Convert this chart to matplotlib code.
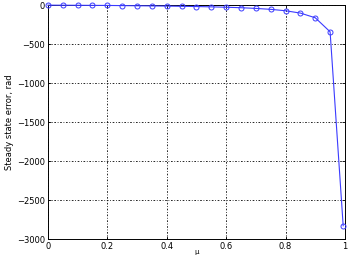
import matplotlib
matplotlib.use('Agg')
import matplotlib.pyplot as plt

# sweep parameter and steady state error
mu = [0.0, 0.05, 0.1, 0.15, 0.2, 0.25, 0.3, 0.35, 0.4, 0.45, 0.5,
      0.55, 0.6, 0.65, 0.7, 0.75, 0.8, 0.85, 0.9, 0.95, 0.994]
err = [0, -1, -2, -3, -4, -6, -8, -10, -12, -15, -18,
       -22, -27, -33, -42, -54, -72, -102, -162, -342, -2830]

fig = plt.figure(figsize=(3.52, 2.57), dpi=100)
ax = fig.add_axes([0.136, 0.07, 0.844, 0.91])

ax.plot(mu, err, '-o', color='#3b3bff', lw=0.8, ms=3.6, mfc='none', mew=0.7,
        clip_on=False, zorder=3)

ax.set_xlim(0, 1)
ax.set_ylim(-3000, 0)
ax.set_xticks([0, 0.2, 0.4, 0.6, 0.8, 1])
ax.set_xticklabels(['0', '0.2', '0.4', '0.6', '0.8', '1'])
ax.set_yticks([-3000, -2500, -2000, -1500, -1000, -500, 0])
ax.tick_params(labelsize=6, length=2, width=0.6, direction='in', pad=2,
               top=True, right=True)
ax.grid(True, color='black', linestyle=(0, (2, 2, 1, 2)), linewidth=0.6)
for s in ax.spines.values():
    s.set_linewidth(0.7)

ax.set_ylabel('Steady state error, rad', fontsize=6, labelpad=2)
ax.set_xlabel('\u03bc', fontsize=5, labelpad=-1)

fig.savefig('out.png', dpi=100)
